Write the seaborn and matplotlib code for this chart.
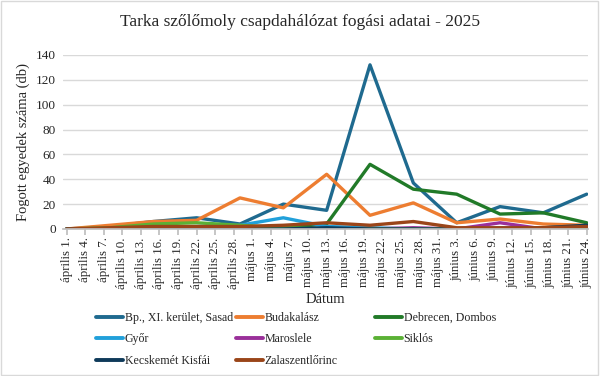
import pandas as pd
import seaborn as sns
import matplotlib.pyplot as plt
from matplotlib.patches import Rectangle

# Sampling dates (weekly) and catches per site.
sample_dates = ["2025-04-01", "2025-04-08", "2025-04-15", "2025-04-22", "2025-04-29",
                "2025-05-06", "2025-05-13", "2025-05-20", "2025-05-27", "2025-06-03",
                "2025-06-10", "2025-06-17", "2025-06-24"]
bp_sasad = [0, 2, 6, 9, 4, 20, 15, 132, 37, 5, 18, 13, 28]
budakalasz = [0, 3, 6, 7, 25, 17, 44, 11, 21, 5, 8, 4, 3]
debrecen = [0, 0, 0, 1, 1, 1, 4, 52, 32, 28, 12, 13, 5]
gyor = [0, 0, 1, 2, 3, 9, 2, 1, 0, 0, 1, 1, 2]
maroslele = [0, 0, 0, 0, 0, 0, 0, 0, 1, 0, 5, 0, 1]
siklos = [0, 1, 4, 5, 3, 1, 0, 0, 0, 0, 0, 0, 0]
kecskemet = [0, 0, 0, 0, 0, 0, 1, 0, 0, 0, 0, 1, 3]
zalaszentlorinc = [0, 1, 2, 2, 2, 3, 5, 3, 6, 1, 1, 1, 2]

sites = ["Bp., XI. kerület, Sasad", "Budakalász", "Debrecen, Dombos", "Győr",
         "Maroslele", "Siklós", "Kecskemét Kisfái", "Zalaszentlőrinc"]
colors = ["#1f6a8f", "#ed7d31", "#217a28", "#21a0da",
          "#9a309a", "#5bb135", "#0e3a5a", "#9a4519"]
month_names = {4: "április", 5: "május", 6: "június"}

series = [bp_sasad, budakalasz, debrecen, gyor, maroslele, siklos, kecskemet, zalaszentlorinc]
df = pd.DataFrame({
    "datum": pd.to_datetime(sample_dates * len(sites)),
    "telephely": [s for s in sites for _ in sample_dates],
    "db": [v for vals in series for v in vals],
})

sns.set_theme(style="white")
plt.rcParams["font.family"] = ["Liberation Serif", "DejaVu Serif"]

fig = plt.figure(figsize=(6, 3.76), dpi=100)
ax = fig.add_axes([0.105, 0.391, 0.875, 0.463])
sns.lineplot(data=df, x="datum", y="db", hue="telephely", hue_order=sites,
             palette=dict(zip(sites, colors)), linewidth=2.4, ax=ax, legend=False)

# Date ticks every 3 days with Hungarian labels.
tick_dates = pd.date_range("2025-04-01", "2025-06-24", freq="3D")
ax.set_xticks(tick_dates)
ax.set_xticklabels([f"{month_names[d.month]} {d.day}." for d in tick_dates],
                   rotation=90, fontsize=9.3)
ax.set_xlim(pd.Timestamp("2025-03-31 10:00"), pd.Timestamp("2025-06-24 05:00"))
ax.set_ylim(0, 140)
ax.set_yticks(range(0, 141, 20))
ax.tick_params(axis="y", labelsize=9.5, length=0, pad=5)
ax.tick_params(axis="x", bottom=True, length=4, color="#bfbfbf", pad=2)
ax.grid(axis="y", color="#d9d9d9", linewidth=1)
for side in ["left", "top", "right"]:
    ax.spines[side].set_visible(False)
ax.spines["bottom"].set_color("#bfbfbf")

ax.set_xlabel("Dátum", fontsize=10.5, labelpad=3)
ax.set_ylabel("Fogott egyedek száma (db)", fontsize=10.5, labelpad=4)
fig.suptitle("Tarka szőlőmoly csapdahálózat fogási adatai - 2025", fontsize=12.5, y=0.962)

# Legend: three columns at fixed positions, row-major like the original.
handles = [plt.Line2D([], [], color=c, linewidth=2.8) for c in colors]
columns = [[0, 3, 6], [1, 4, 7], [2, 5]]
col_x = [0.16, 0.393, 0.625]
for idx, x in zip(columns, col_x):
    leg = fig.legend([handles[i] for i in idx], [sites[i] for i in idx],
                     loc="upper left", bbox_to_anchor=(x, 0.171), frameon=False,
                     fontsize=8.6, handlelength=2.25, handletextpad=0.15,
                     labelspacing=0.82, borderaxespad=0, borderpad=0)

fig.patches.append(Rectangle((0.002, 0.003), 0.995, 0.994, transform=fig.transFigure,
                             fill=False, edgecolor="#d9d9d9", linewidth=1))

plt.savefig("out.png", dpi=100)
